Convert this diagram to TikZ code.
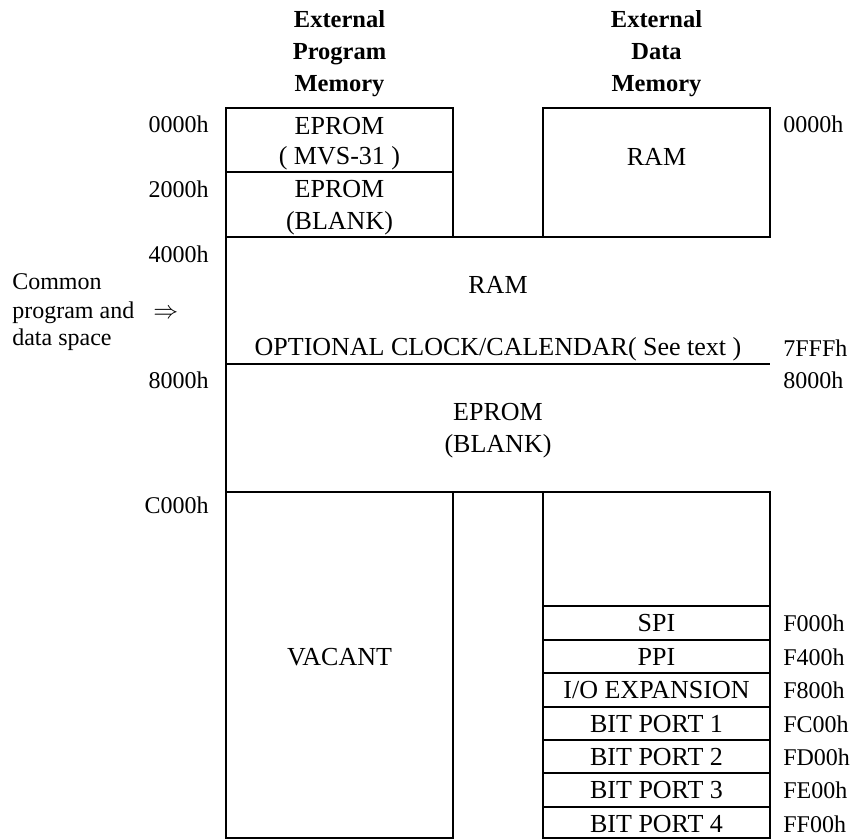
\documentclass[tikz,border=0pt]{standalone}
\usepackage{fontspec}
\setmainfont{Liberation Serif}

\def\BoxFont{\fontsize{26}{30}\selectfont}
\def\AddrFont{\fontsize{24}{28}\selectfont}
\def\HeadFont{\fontsize{24.5}{32}\selectfont\bfseries}
\def\LeftX{226}
\def\MidL{453}
\def\MidR{543}
\def\RightX{770}

\begin{document}
\begin{tikzpicture}[x=1pt,y=-1pt,line width=2.6pt,
  txt/.style={inner sep=0pt,font=\BoxFont,anchor=base},
  addr/.style={inner sep=0pt,font=\AddrFont},
  head/.style={inner sep=0pt,font=\HeadFont,anchor=base}]
  \useasboundingbox (0,0) rectangle (858,839);
  % --- Encabezados ---
  \foreach \t/\y [count=\i] in {External/27,Program/59,Memory/91}{
    \node[head] (hp\i) at (339.5,\y) {\t};
  }
  \foreach \t/\y [count=\i] in {External/27,Data/59,Memory/91}{
    \node[head] (hd\i) at (656.5,\y) {\t};
  }
  % --- Bloques ---
  \draw (\LeftX,108) rectangle (\MidL,237);
  \draw (\LeftX,172) -- (\MidL,172);
  \draw (\MidR,108) rectangle (\RightX,237);
  \draw (\LeftX,108) -- (\LeftX,838);
  \foreach \y in {237,364,492}{
    \draw (\LeftX,\y) -- (\RightX,\y);
  }
  \draw (\LeftX,492) rectangle (\MidL,838);
  \draw (\MidR,492) rectangle (\RightX,838);
  \foreach \y in {606,640,673,707,740,773,807}{
    \draw (\MidR,\y) -- (\RightX,\y);
  }
  % --- Textos de los bloques ---
  \node[txt] (epA) at (339.5,134) {EPROM};
  \node[txt] (mvs) at (339.5,164) {( MVS-31 )};
  \node[txt] (epB) at (339.5,197) {EPROM};
  \node[txt] (blkB) at (339.5,229) {(BLANK)};
  \node[txt] (dram) at (656.5,165) {RAM};
  \node[txt] (ram) at (498,293) {RAM};
  \node[txt] (clk) at (498,355) {OPTIONAL CLOCK/CALENDAR( See text )};
  \node[txt] (epC) at (498,420) {EPROM};
  \node[txt] (blkC) at (498,452) {(BLANK)};
  \node[txt] (vac) at (339.5,665) {VACANT};
  \foreach \n/\y/\a [count=\i] in {SPI/606/F000h,PPI/640/F400h,
    {I/O EXPANSION}/673/F800h,BIT PORT 1/707/FC00h,BIT PORT 2/740/FD00h,
    BIT PORT 3/773/FE00h,BIT PORT 4/807/FF00h}{
    \node[txt] (io\i) at (656.5,\y+25.5) {\n};
    \node[addr,anchor=base west] (ioa\i) at (782,\y+25.5) {\a};
  }
  % --- Direcciones ---
  \foreach \a/\y [count=\i] in {0000h/132,2000h/197,4000h/262,8000h/388,C000h/513}{
    \node[addr,anchor=base east] (pa\i) at (210,\y) {\a};
  }
  \foreach \a/\y [count=\i] in {0000h/132,7FFFh/356,8000h/388}{
    \node[addr,anchor=base west] (da\i) at (782,\y) {\a};
  }
  % --- Espacio comun ---
  \foreach \t/\y [count=\i] in {Common/289,program and/318,data space/345}{
    \node[addr,anchor=base west] (cm\i) at (11,\y) {\t};
  }
  \node[addr,anchor=base west] (arr) at (152,318) {$\Rightarrow$};
\end{tikzpicture}
\end{document}
